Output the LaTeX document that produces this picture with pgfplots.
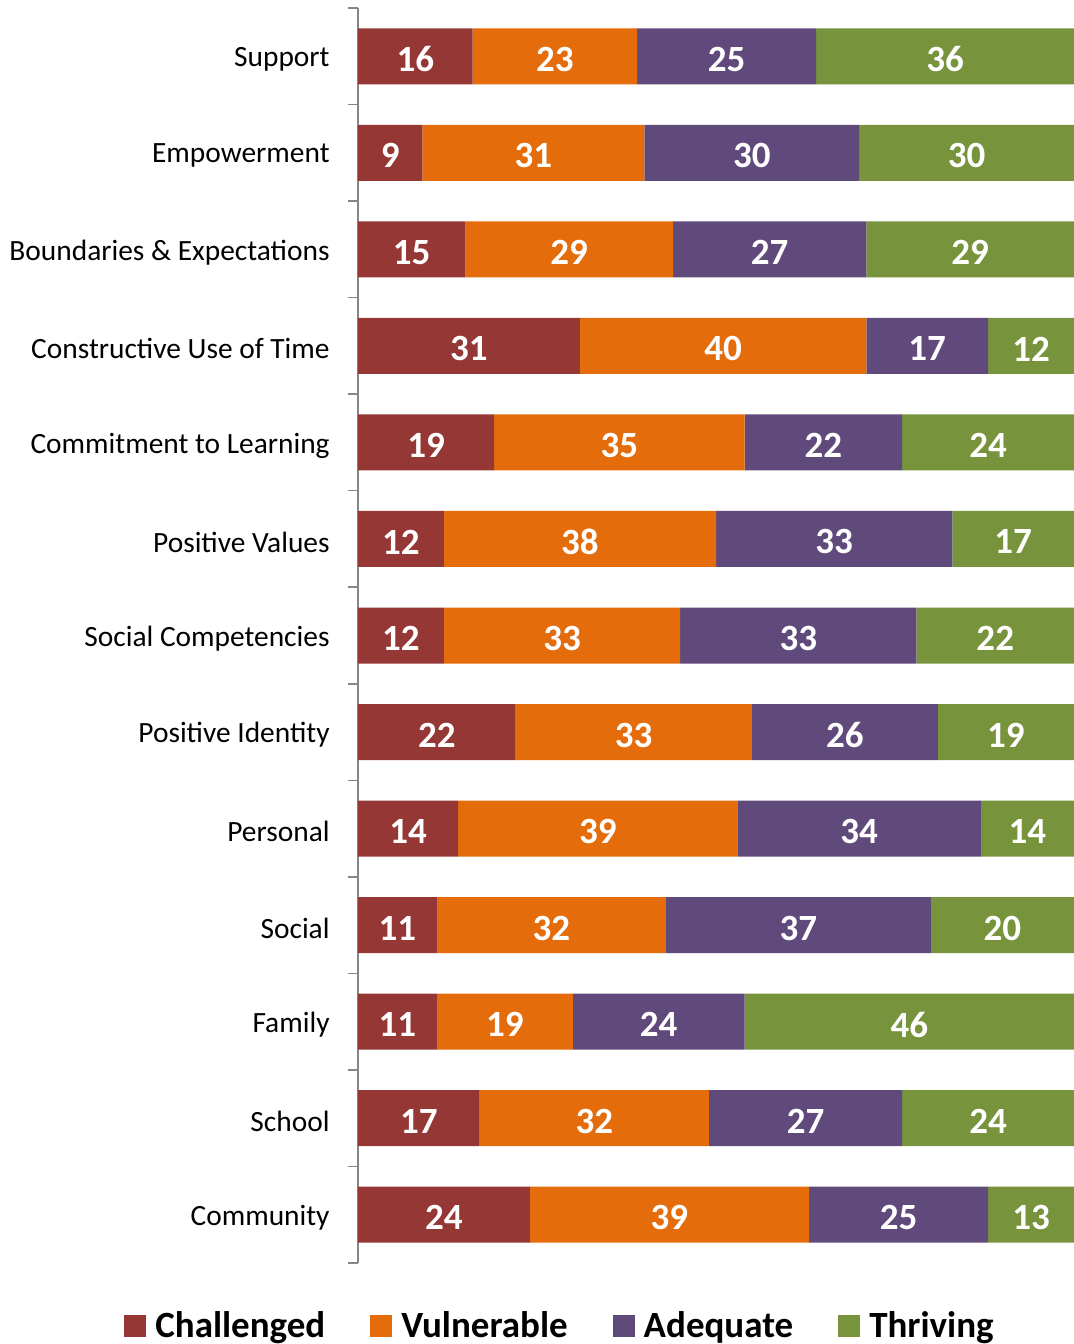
\documentclass[border=0pt]{standalone}
\usepackage{pgfplots}
\usepackage{pgfplotstable}
\pgfplotsset{compat=1.18}
\usepackage{fontspec}
\setmainfont{Carlito}
\definecolor{cch}{HTML}{953735}
\definecolor{cvu}{HTML}{E46C0A}
\definecolor{cad}{HTML}{604A7B}
\definecolor{cth}{HTML}{77933C}
\definecolor{axgray}{HTML}{868686}
\pgfplotstableread{
y  c  v  a  t  cl vl al tl
0  16 23 25 36 16 23 25 36
1  9  31 30 30 9  31 30 30
2  15 29 27 29 15 29 27 29
3  31 40 17 12 31 40 17 12
4  19 35 22 24 19 35 22 24
5  12 38 33 17 12 38 33 17
6  12 33 33 22 12 33 33 22
7  22 33 26 19 22 33 26 19
8  14 39 34 13 14 39 34 14
9  11 32 37 20 11 32 37 20
10 11 19 24 46 11 19 24 46
11 17 32 27 24 17 32 27 24
12 24 39 25 12 24 39 25 13
}\data
\begin{document}
\begin{tikzpicture}
\path[use as bounding box] (0,0) rectangle (537pt,672pt);
\begin{axis}[
  at={(179pt,40.5pt)}, anchor=south west,
  width=358pt, height=627.5pt, scale only axis,
  xbar stacked, bar width=0.58,
  xmin=0, xmax=100, ymin=-0.5, ymax=12.5,
  y dir=reverse,
  axis x line=none,
  axis y line*=left,
  axis line style={-, axgray, line width=0.75pt},
  ytick={0,...,12},
  yticklabels={Support, Empowerment, Boundaries \& Expectations, Constructive Use of Time, Commitment to Learning, Positive Values, Social Competencies, Positive Identity, Personal, Social, Family, School, Community},
  minor ytick={-0.5,0.5,...,12.5},
  major tick length=0pt, minor tick length=5pt,
  tick align=outside,
  tick style={axgray, line width=0.75pt},
  yticklabel style={font=\fontsize{14.7}{16}\selectfont, inner sep=0pt, xshift=-14pt, yshift=-1.5pt},
  point meta=explicit symbolic,
  nodes near coords,
  every node near coord/.append style={font=\bfseries\fontsize{18.5}{20}\selectfont, text=white, yshift=-1.5pt},
  legend columns=4,
  legend style={draw=none, at={(0.287,-0.05)}, anchor=center,
    font=\bfseries\fontsize{18.5}{20}\selectfont,
    /tikz/every even column/.append style={column sep=18pt},
    nodes={inner xsep=4.5pt}},
  legend image code/.code={\fill[#1] (0pt,-5.5pt) rectangle (11pt,5.5pt);},
]
\addplot[fill=cch, draw=none] table[x=c, y=y, meta=cl]{\data};
\addplot[fill=cvu, draw=none] table[x=v, y=y, meta=vl]{\data};
\addplot[fill=cad, draw=none] table[x=a, y=y, meta=al]{\data};
\addplot[fill=cth, draw=none] table[x=t, y=y, meta=tl]{\data};
\legend{Challenged, Vulnerable, Adequate, Thriving}
\end{axis}
\end{tikzpicture}
\end{document}
